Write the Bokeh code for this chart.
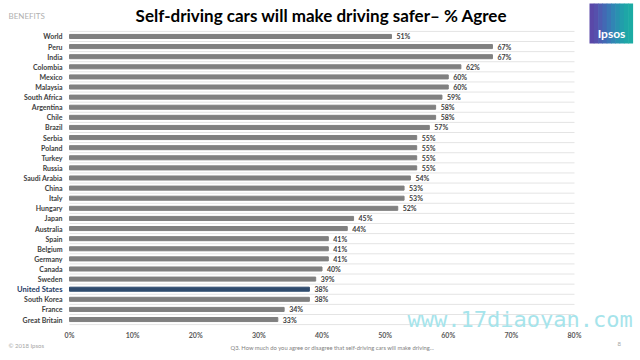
import numpy as np
from bokeh.plotting import figure
from bokeh.layouts import column
from bokeh.models import (Label, FixedTicker, Range1d, ColumnDataSource, BoxAnnotation,
                          CustomJSTickFormatter)
from bokeh.core.properties import value
from bokeh.embed import file_html
from bokeh.resources import INLINE

countries = ["World", "Peru", "India", "Colombia", "Mexico", "Malaysia", "South Africa",
             "Argentina", "Chile", "Brazil", "Serbia", "Poland", "Turkey", "Russia",
             "Saudi Arabia", "China", "Italy", "Hungary", "Japan", "Australia", "Spain",
             "Belgium", "Germany", "Canada", "Sweden", "United States", "South Korea",
             "France", "Great Britain"]
agree = [51, 67, 67, 62, 60, 60, 59, 58, 58, 57, 55, 55, 55, 55, 54, 53, 53, 52,
         45, 44, 41, 41, 41, 40, 39, 38, 38, 34, 33]
highlight = "United States"
x_ticks = [0, 10, 20, 30, 40, 50, 60, 70, 80]

FONT = "Lato"
n = len(countries)
ypos = [n - 1 - i for i in range(n)]
colors = ["#2f4b6e" if c == highlight else "#808080" for c in countries]
name_colors = ["#1f3c66" if c == highlight else "#404040" for c in countries]
name_sizes = ["7.6px" if c == highlight else "7px" for c in countries]
labels = [f"{v}%" for v in agree]

src = ColumnDataSource(dict(y=ypos, v=agree, c=colors, nc=name_colors, ns=name_sizes,
                            lab=labels, name=countries, zero=[0] * n))

# geometry of the main figure (pixels)
W, H1, H2 = 640, 341, 19
left_px, right_px = 69, 574          # positions of 0% and 80%
frame_bottom = 329
row_px = 10.14
row0_px = 320                        # centre of last row
px_per_unit = (right_px - left_px) / (x_ticks[-1] - x_ticks[0])
x0 = -left_px / px_per_unit
x1 = x0 + W / px_per_unit
y0 = -(frame_bottom - row0_px) / row_px
y1 = y0 + frame_bottom / row_px

p = figure(width=W, height=H1, output_backend="svg", toolbar_location=None,
           x_range=Range1d(x0, x1), y_range=Range1d(y0, y1),
           y_axis_location=None,
           min_border_left=0, min_border_right=0, min_border_top=0,
           min_border_bottom=H1 - frame_bottom)
p.outline_line_color = None
p.background_fill_color = "white"
p.border_fill_color = "white"
p.xgrid.grid_line_color = None
p.ygrid.grid_line_color = None

# separators between rows
sep = [k + 0.5 for k in range(-1, n)]
p.segment(x0=[x_ticks[0]] * len(sep), x1=[x_ticks[-1]] * len(sep), y0=sep, y1=sep,
          line_color="#e4e4e4", line_width=1)

p.hbar(y="y", right="v", left=0, height=0.4, color="c", source=src)
p.text(x="v", y="y", text="lab", source=src, x_offset=5, text_align="left",
       text_baseline="middle", text_font=value(FONT), text_font_size="7px",
       text_font_style="bold", text_color="#404040")
p.text(x="zero", y="y", text="name", source=src, x_offset=-7, text_align="right",
       text_baseline="middle", text_font=value(FONT), text_font_size="ns",
       text_font_style="bold", text_color="nc")

# x axis
p.xaxis.ticker = FixedTicker(ticks=x_ticks)
p.xaxis.formatter = CustomJSTickFormatter(code="return tick + '%'")
p.xaxis.axis_line_color = None
p.xaxis.major_tick_line_color = None
p.xaxis.minor_tick_line_color = None
p.xaxis.major_tick_out = 0
p.xaxis.major_tick_in = 0
p.xaxis.minor_tick_out = 0
p.xaxis.minor_tick_in = 0
p.xaxis.major_label_standoff = 2
p.xaxis.major_label_text_font = FONT
p.xaxis.major_label_text_font_size = "7px"
p.xaxis.major_label_text_font_style = "bold"
p.xaxis.major_label_text_color = "#595959"


def ctext(fig, x, y, t, size, color, style="normal", align="left", font=FONT,
          baseline="middle"):
    fig.add_layout(Label(x=x, y=y, x_units="canvas", y_units="canvas", text=t,
                         text_font=font, text_font_size=size, text_color=color,
                         text_font_style=style, text_align=align, text_baseline=baseline))


ctext(p, 321, 15, "Self-driving cars will make driving safer\u2013 % Agree", "17px", "#000000", "bold", "center")
ctext(p, 8, 15, "BENEFITS", "8px", "#b0b0b0")
ctext(p, 407, 319, "www.17diaoyan.com", "22px", "#a6e4eb", font="DejaVu Sans Mono")

# logo
logo_cols = ["#5a48a8", "#5650ac", "#4d5db1", "#4369b4", "#3a77b5",
             "#3185b4", "#2991b0", "#229dab", "#1ea6a7", "#1cabA4"]
lx0, lx1, ly0, ly1 = 589, 632, 3, 43
lw = (lx1 - lx0) / len(logo_cols)
for i, c in enumerate(logo_cols):
    p.add_layout(BoxAnnotation(left=lx0 + i * lw, right=lx0 + (i + 1) * lw + 0.6,
                               top=ly0, bottom=ly1,
                               left_units="canvas", right_units="canvas",
                               top_units="canvas", bottom_units="canvas",
                               fill_color=c, fill_alpha=1, line_color=None))
ctext(p, 611, 33, "Ipsos", "12px", "white", "bold", "center")

# footer
f = figure(width=W, height=H2, output_backend="svg", toolbar_location=None,
           x_axis_location=None, y_axis_location=None,
           min_border_left=0, min_border_right=0, min_border_top=0, min_border_bottom=0)
f.outline_line_color = None
f.xgrid.grid_line_color = None
f.ygrid.grid_line_color = None
ctext(f, 8, 4, "\u00a9 2018 Ipsos", "6px", "#a6a6a6")
ctext(f, 230, 6, "Q3. How much do you agree or disagree that self-driving cars will make driving...", "5.8px", "#7f7f7f")
ctext(f, 617, 2, "8", "6px", "#a6a6a6")

layout = column(p, f, spacing=0)
open("out.html", "w").write(file_html(layout, INLINE))
